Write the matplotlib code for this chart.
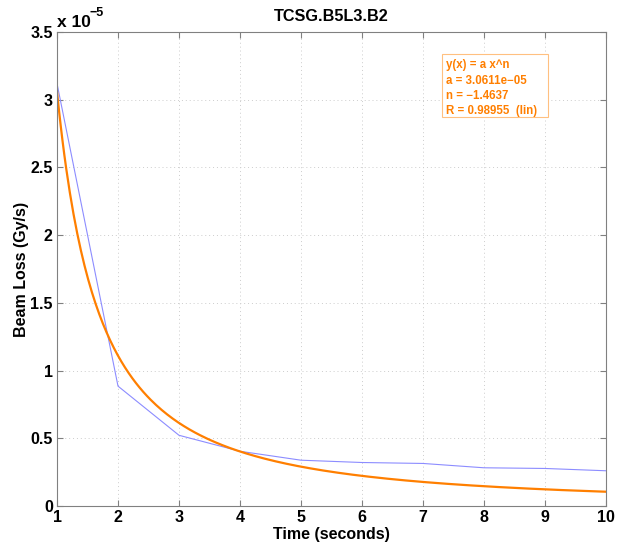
import numpy as np
import matplotlib.pyplot as plt
from matplotlib.patches import Rectangle
from matplotlib.ticker import FuncFormatter

plt.rcParams['font.family'] = ['Liberation Sans', 'DejaVu Sans']
plt.rcParams['font.weight'] = 'bold'

# measured beam loss (units of 1e-5 Gy/s)
time_s = [1, 2, 3, 4, 5, 6, 7, 8, 9, 10]
beam_loss = [3.12, 0.885, 0.522, 0.404, 0.338, 0.321, 0.314, 0.282, 0.277, 0.26]

# power-law fit parameters
fit_a = 3.0611e-05
fit_n = -1.4637
fit_r = 0.98955

scale = 1e-5

fig = plt.figure(figsize=(6.25, 5.47), dpi=100)
ax = fig.add_axes([0.0912, 0.075, 0.8784, 0.8665])

ax.plot(time_s, np.array(beam_loss) * scale, color='#8c8cff', lw=0.8)
xs = np.linspace(1, 10, 300)
ax.plot(xs, fit_a * xs ** fit_n, color='#ff7f00', lw=1.6)

ax.set_xlim(1, 10)
ax.set_ylim(0, 3.5e-5)
ax.set_xticks(range(1, 11))
ax.set_yticks(np.arange(0, 3.51, 0.5) * scale)
ax.yaxis.set_major_formatter(FuncFormatter(lambda v, p: ('%g' % round(v / scale, 2))))
ax.tick_params(direction='in', labelsize=11.5, length=4, color='#808080', pad=3,
               top=True, right=True)
for s in ax.spines.values():
    s.set_color('#808080')
ax.grid(True, ls=(0, (1, 3)), color='#cccccc', lw=0.7)

ax.set_title('TCSG.B5L3.B2', fontsize=11.7, fontweight='bold', pad=8)
ax.set_xlabel('Time (seconds)', fontsize=11.5, fontweight='bold', labelpad=1)
ax.set_ylabel('Beam Loss (Gy/s)', fontsize=11.5, fontweight='bold', labelpad=1)
ax.text(0.0, 1.005, 'x 10', transform=ax.transAxes, fontsize=12.5,
        fontweight='bold', ha='left', va='bottom')
ax.text(0.06, 1.028, '\u22125', transform=ax.transAxes, fontsize=9,
        fontweight='bold', ha='left', va='bottom')

fit_text = 'y(x) = a x^n\na = %.4e\nn = %.4f\nR = %.5f  (lin)' % (fit_a, fit_n, fit_r)
fit_text = fit_text.replace('-', '\u2212')
ax.add_patch(Rectangle((0.701, 0.821), 0.193, 0.133, transform=ax.transAxes,
                       fc='white', ec='#ffc080', lw=0.8, zorder=3))
ax.text(0.709, 0.942, fit_text, transform=ax.transAxes, fontsize=8.3,
        fontweight='bold', color='#ff7f00', va='top', ha='left', linespacing=1.35,
        zorder=4)

fig.savefig('out.png', dpi=100)
